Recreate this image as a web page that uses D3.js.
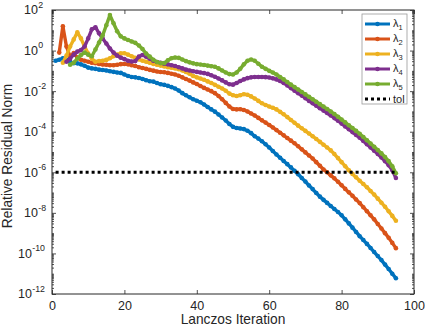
<!DOCTYPE html>
<html><head><meta charset="utf-8">
<script src="https://cdn.jsdelivr.net/npm/d3@7"></script>
<style>
body{margin:0;background:#fff;}
svg{display:block;font-family:"Liberation Sans",Arial,Helvetica,sans-serif;}
</style></head><body>
<svg id="c" width="425" height="327"></svg>
<script>
// ---- data (log10 of relative residual norm, one value per Lanczos iteration) ----
const seriesLabels = ["1","2","3","4","5"];
const seriesStart = [1,2,3,4,5];
const seriesColors = ["#0072BD","#D95319","#EDB120","#7E2F8E","#77AC30"];
const logRes1 = [-0.5,-0.45,-0.38,-0.45,-0.55,-0.62,-0.63,-0.68,-0.75,-0.84,-0.88,-0.9,-0.94,-0.96,-0.98,-1.02,-1.05,-1.08,-1.1,-1.18,-1.25,-1.3,-1.32,-1.35,-1.4,-1.46,-1.51,-1.53,-1.6,-1.66,-1.69,-1.74,-1.8,-1.87,-1.97,-2.1,-2.2,-2.3,-2.4,-2.47,-2.55,-2.66,-2.78,-2.9,-3.01,-3.15,-3.3,-3.45,-3.62,-3.76,-3.82,-3.84,-3.87,-3.95,-4.07,-4.22,-4.34,-4.47,-4.62,-4.78,-4.95,-5.12,-5.28,-5.44,-5.6,-5.76,-5.93,-6.1,-6.28,-6.46,-6.65,-6.83,-7.02,-7.2,-7.36,-7.51,-7.66,-7.81,-7.96,-8.12,-8.32,-8.52,-8.73,-8.94,-9.15,-9.34,-9.53,-9.73,-9.93,-10.13,-10.33,-10.55,-10.77,-11.0,-11.22];
const logRes2 = [-0.1,1.2,0.2,-0.3,-0.12,-0.35,-0.45,-0.5,-0.55,-0.6,-0.62,-0.66,-0.69,-0.7,-0.72,-0.72,-0.7,-0.67,-0.66,-0.68,-0.72,-0.76,-0.82,-0.86,-0.9,-0.95,-0.99,-1.03,-1.06,-1.07,-1.1,-1.14,-1.18,-1.24,-1.32,-1.4,-1.48,-1.57,-1.65,-1.75,-1.84,-1.92,-2.0,-2.1,-2.24,-2.4,-2.58,-2.76,-2.88,-2.9,-2.89,-2.93,-3.0,-3.1,-3.2,-3.32,-3.44,-3.55,-3.67,-3.79,-3.92,-4.05,-4.18,-4.31,-4.44,-4.57,-4.72,-4.87,-5.02,-5.17,-5.32,-5.5,-5.68,-5.86,-6.0,-6.15,-6.3,-6.47,-6.64,-6.82,-6.99,-7.16,-7.34,-7.52,-7.72,-7.92,-8.12,-8.32,-8.55,-8.77,-9.0,-9.23,-9.48,-9.74];
const logRes3 = [-0.6,-0.25,0.2,0.55,0.9,0.6,0.2,-0.15,-0.4,-0.55,-0.52,-0.5,-0.46,-0.38,-0.28,-0.2,-0.14,-0.13,-0.2,-0.28,-0.36,-0.44,-0.5,-0.55,-0.6,-0.66,-0.7,-0.74,-0.78,-0.82,-0.85,-0.88,-0.92,-0.98,-1.06,-1.14,-1.25,-1.32,-1.38,-1.44,-1.52,-1.6,-1.69,-1.78,-1.87,-1.98,-2.12,-2.2,-2.24,-2.2,-2.15,-2.18,-2.26,-2.36,-2.48,-2.6,-2.68,-2.76,-2.82,-2.9,-3.02,-3.14,-3.28,-3.42,-3.56,-3.7,-3.83,-3.96,-4.09,-4.22,-4.36,-4.5,-4.64,-4.78,-4.92,-5.1,-5.3,-5.5,-5.7,-5.9,-6.08,-6.25,-6.42,-6.58,-6.74,-6.92,-7.1,-7.3,-7.5,-7.7,-7.92,-8.15,-8.39];
const logRes4 = [-0.55,-0.4,-0.2,-0.05,0.02,0.2,0.6,1.05,1.15,0.85,0.6,0.35,0.1,-0.1,-0.25,-0.35,-0.42,-0.5,-0.54,-0.52,-0.3,-0.22,-0.3,-0.4,-0.5,-0.56,-0.6,-0.65,-0.68,-0.72,-0.76,-0.82,-0.88,-0.94,-0.98,-1.02,-1.05,-1.08,-1.11,-1.15,-1.22,-1.29,-1.38,-1.47,-1.57,-1.66,-1.68,-1.6,-1.5,-1.42,-1.36,-1.32,-1.3,-1.3,-1.3,-1.31,-1.33,-1.37,-1.42,-1.5,-1.6,-1.72,-1.85,-1.98,-2.1,-2.22,-2.35,-2.48,-2.6,-2.72,-2.84,-2.96,-3.08,-3.2,-3.33,-3.46,-3.6,-3.74,-3.88,-4.02,-4.16,-4.3,-4.46,-4.62,-4.78,-4.94,-5.1,-5.27,-5.45,-5.65,-5.9,-6.28];
const logRes5 = [-0.7,-0.6,-0.4,-0.22,-0.1,-0.2,-0.28,0.05,0.4,0.75,1.25,1.75,1.35,0.95,0.7,0.6,0.52,0.45,0.38,0.25,0.08,-0.15,-0.3,-0.45,-0.56,-0.62,-0.62,-0.48,-0.38,-0.34,-0.36,-0.44,-0.52,-0.58,-0.63,-0.67,-0.69,-0.71,-0.74,-0.77,-0.8,-0.88,-0.98,-1.08,-1.16,-1.18,-1.08,-0.9,-0.68,-0.5,-0.44,-0.5,-0.65,-0.8,-0.9,-1.0,-1.08,-1.18,-1.3,-1.42,-1.55,-1.68,-1.8,-1.92,-2.04,-2.16,-2.28,-2.4,-2.52,-2.64,-2.76,-2.88,-3.0,-3.13,-3.26,-3.4,-3.54,-3.68,-3.82,-3.96,-4.1,-4.26,-4.42,-4.58,-4.74,-4.9,-5.07,-5.25,-5.45,-5.7,-6.05];
const tolValue = 1e-6;
const tolIters = [1, 95];
const xTicks = [0,20,40,60,80,100];
const yTickExps = [2,0,-2,-4,-6,-8,-10,-12];
const xLabel = "Lanczos Iteration";
const yLabel = "Relative Residual Norm";

// ---- chart ----
const allLogs = [logRes1,logRes2,logRes3,logRes4,logRes5];
const series = allLogs.map((arr,s)=>({
  label: seriesLabels[s], color: seriesColors[s],
  pts: arr.map((v,i)=>({it: seriesStart[s]+i, val: Math.pow(10,v)}))
}));

const L=52, R=414, T=10, B=294;
const ink = "#262626";
const x = d3.scaleLinear().domain([0,100]).range([L,R]);
const y = d3.scaleLog().domain([1e-12,1e2]).range([B,T]);
const svg = d3.select("#c");

// minor log ticks
const minorVals = [];
for (let e=-12; e<2; e++) for (let k=1; k<10; k++){
  if (k===1 && e%2===0) continue;
  minorVals.push(k*Math.pow(10,e));
}
const majorVals = yTickExps.map(e=>Math.pow(10,e));

function styleAxis(g){
  g.select(".domain").remove();
  g.selectAll("line").attr("stroke",ink).attr("stroke-width",0.8);
}
svg.append("g").attr("transform",`translate(${L},0)`)
  .call(d3.axisLeft(y).tickValues(minorVals).tickSize(-2).tickFormat("")).call(styleAxis);
svg.append("g").attr("transform",`translate(${R},0)`)
  .call(d3.axisRight(y).tickValues(minorVals).tickSize(-2).tickFormat("")).call(styleAxis);
svg.append("g").attr("transform",`translate(${L},0)`)
  .call(d3.axisLeft(y).tickValues(majorVals).tickSize(-4).tickFormat("")).call(styleAxis);
svg.append("g").attr("transform",`translate(${R},0)`)
  .call(d3.axisRight(y).tickValues(majorVals).tickSize(-4).tickFormat("")).call(styleAxis);

const xa = svg.append("g").attr("transform",`translate(0,${B})`)
  .call(d3.axisBottom(x).tickValues(xTicks).tickSizeInner(-4).tickSizeOuter(0).tickFormat(d3.format("d")));
xa.select(".domain").remove();
xa.selectAll("line").attr("stroke",ink).attr("stroke-width",0.8);
xa.selectAll("text").attr("y",16).attr("dy",null).attr("fill",ink)
  .style("font-size","12.5px").style("font-family",null);
svg.append("g").attr("transform",`translate(0,${T})`)
  .call(d3.axisTop(x).tickValues(xTicks).tickSizeInner(-4).tickSizeOuter(0).tickFormat("")).call(styleAxis);

// box
svg.append("rect").attr("x",L).attr("y",T).attr("width",R-L).attr("height",B-T)
  .attr("fill","none").attr("stroke",ink).attr("stroke-width",1);

// y tick labels 10^k
const yl = svg.append("g").attr("fill",ink);
yTickExps.forEach(e=>{
  const yy = y(Math.pow(10,e));
  const es = String(e);
  const baseEnd = es.length>=3 ? 32 : 38;
  yl.append("text").attr("x",baseEnd).attr("y",yy+4.4).attr("text-anchor","end")
    .style("font-size","12.5px").text("10");
  yl.append("text").attr("x",baseEnd+0.3).attr("y",yy-2.3).attr("text-anchor","start")
    .style("font-size","8.8px").text(es);
});

// axis labels
svg.append("text").attr("x",(L+R)/2).attr("y",324).attr("text-anchor","middle")
  .attr("fill",ink).style("font-size","13.75px").text(xLabel);
svg.append("text").attr("transform",`translate(11.5,${(T+B)/2+4}) rotate(-90)`)
  .attr("text-anchor","middle").attr("fill",ink).style("font-size","13.75px").text(yLabel);

// series
const line = d3.line().x(d=>x(d.it)).y(d=>y(d.val));
series.forEach(s=>{
  const g = svg.append("g");
  g.append("path").datum(s.pts).attr("d",line).attr("fill","none")
    .attr("stroke",s.color).attr("stroke-width",3.4).attr("stroke-linejoin","round");
  g.selectAll("circle").data(s.pts).join("circle")
    .attr("cx",d=>x(d.it)).attr("cy",d=>y(d.val)).attr("r",2.3).attr("fill",s.color);
});

// tolerance
svg.append("line").attr("x1",x(tolIters[0])).attr("x2",x(tolIters[1]))
  .attr("y1",y(tolValue)).attr("y2",y(tolValue))
  .attr("stroke","#000").attr("stroke-width",3).attr("stroke-dasharray","3,3");

// legend
const lg = svg.append("g");
lg.append("rect").attr("x",362).attr("y",14).attr("width",45).attr("height",90)
  .attr("fill","#fff").attr("stroke","#9a9a9a").attr("stroke-width",0.8);
series.forEach((s,i)=>{
  const ry = 24 + i*15;
  lg.append("line").attr("x1",365).attr("x2",390).attr("y1",ry).attr("y2",ry)
    .attr("stroke",s.color).attr("stroke-width",3);
  lg.append("circle").attr("cx",377.5).attr("cy",ry).attr("r",2.3).attr("fill",s.color);
  const t = lg.append("text").attr("x",393).attr("y",ry+3).attr("fill",ink).style("font-size","11px");
  t.append("tspan").text("λ");
  t.append("tspan").attr("dy",3).style("font-size","7.5px").text(s.label);
});
{
  const ry = 24 + 5*15;
  lg.append("line").attr("x1",365).attr("x2",390).attr("y1",ry).attr("y2",ry)
    .attr("stroke","#000").attr("stroke-width",3).attr("stroke-dasharray","3,3");
  lg.append("text").attr("x",393).attr("y",ry+3.5).attr("fill",ink).style("font-size","11px").text("tol");
}
</script>
</body></html>
